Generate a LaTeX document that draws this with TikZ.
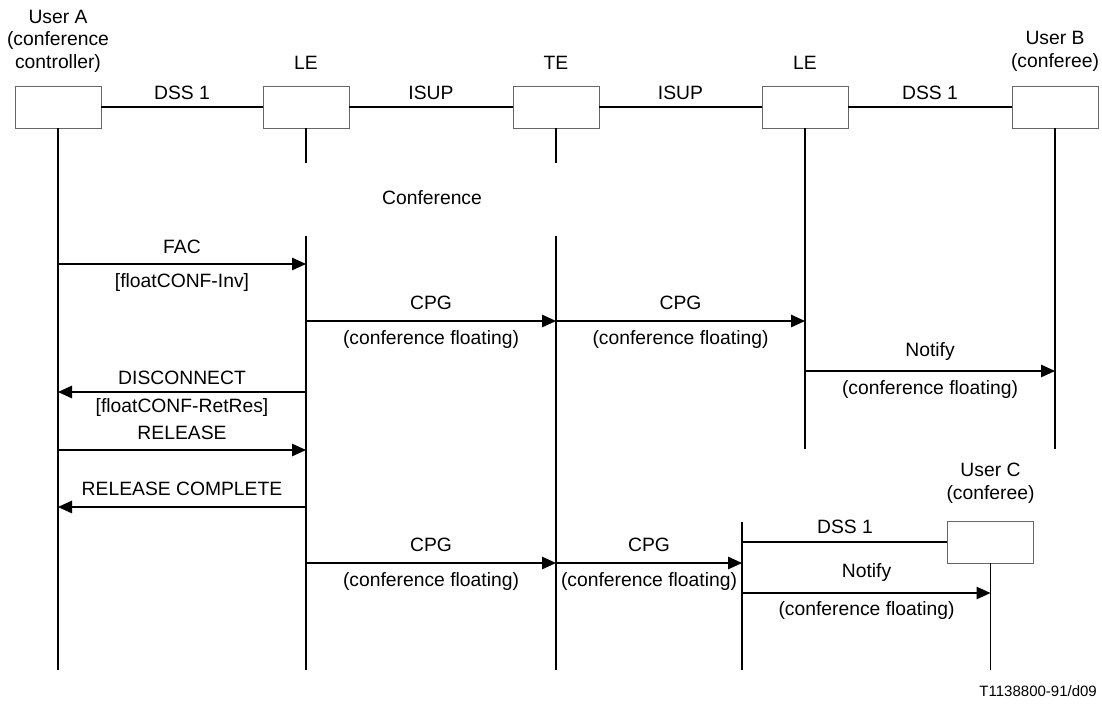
\documentclass[tikz,border=0pt]{standalone}
\usepackage{fontspec}
\setmainfont{Liberation Sans}
\usetikzlibrary{arrows.meta}
\begin{document}
\begin{tikzpicture}[x=1pt,y=-1pt,
  ent/.style={draw=black!60, line width=0.9pt, minimum width=86pt, minimum height=42pt, inner sep=0pt, fill=white},
  life/.style={line width=1.3pt},
  link/.style={line width=1.3pt},
  thin link/.style={line width=1.1pt},
  msg/.style={line width=1.3pt, -{Triangle[length=14pt,width=12.5pt]}},
  thin msg/.style={line width=1.1pt, -{Triangle[length=14pt,width=12.5pt]}},
  lbl/.style={font=\fontsize{19.3}{22.5}\selectfont, inner sep=0pt, align=center},
  tag/.style={font=\fontsize{15}{18}\selectfont, inner sep=0pt, anchor=east},
]
\useasboundingbox (0,0) rectangle (1102,709);

% entities
\node[ent] (A)   at (58,107)   {};
\node[ent] (LE1) at (306,107)  {};
\node[ent] (TE)  at (556,107)  {};
\node[ent] (LE2) at (805,107)  {};
\node[ent] (B)   at (1055,107) {};

\node[lbl] (nA)   at (58,41)    {User A\\(conference\\controller)};
\node[lbl] (nLE1) at (306,63)   {LE};
\node[lbl] (nTE)  at (556,63)   {TE};
\node[lbl] (nLE2) at (805,63)   {LE};
\node[lbl] (nB)   at (1055,51.5) {User B\\(conferee)};

% signalling links between entities
\draw[link] (A) -- (LE1);
\draw[link] (LE1) -- (TE);
\draw[link] (TE) -- (LE2);
\draw[link] (LE2) -- (B);
\node[lbl] (l1) at (182,93)   {DSS 1};
\node[lbl] (l2) at (431,93)   {ISUP};
\node[lbl] (l3) at (680.5,93) {ISUP};
\node[lbl] (l4) at (930,93)   {DSS 1};

% lifelines
\coordinate (Aend)  at (58,670);
\coordinate (LE1s)  at (306,163);
\coordinate (TEs)   at (556,163);
\coordinate (LE1t)  at (306,236);
\coordinate (LE1e)  at (306,670);
\coordinate (TEt)   at (556,236);
\coordinate (TEe)   at (556,670);
\coordinate (LE2e)  at (805,449);
\coordinate (Be)    at (1055,449);
\coordinate (LE3t)  at (742,522);
\coordinate (LE3e)  at (742,670);
\draw[life] (A.south) -- (Aend);
\draw[life] (LE1.south) -- (LE1s);
\draw[life] (TE.south) -- (TEs);
\draw[life] (LE1t) -- (LE1e);
\draw[life] (TEt) -- (TEe);
\draw[life] (LE2.south) -- (LE2e);
\draw[life] (B.south) -- (Be);
\draw[life] (LE3t) -- (LE3e);

\node[lbl] (conf) at (432,198) {Conference};

% floating request
\draw[msg] (A |- 0,264) -- (LE1t |- 0,264);
\node[lbl] (m1a) at (182,247) {FAC};
\node[lbl] (m1b) at (182,283) {[floatCONF-Inv]};

\draw[msg] (LE1t |- 0,321) -- (TEt |- 0,321);
\node[lbl] (m2a) at (431,303) {CPG};
\node[lbl] (m2b) at (431,340) {(conference floating)};

\draw[msg] (TEt |- 0,321) -- (LE2 |- 0,321);
\node[lbl] (m3a) at (680.5,303) {CPG};
\node[lbl] (m3b) at (680.5,340) {(conference floating)};

\draw[msg] (LE2 |- 0,371) -- (B |- 0,371);
\node[lbl] (m4a) at (930,352) {Notify};
\node[lbl] (m4b) at (930,390) {(conference floating)};

% clearing of the controller's call
\draw[msg] (LE1t |- 0,392) -- (A |- 0,392);
\node[lbl] (m5a) at (182,378) {DISCONNECT};
\node[lbl] (m5b) at (182,408) {[floatCONF-RetRes]};

\draw[msg] (A |- 0,450) -- (LE1t |- 0,450);
\node[lbl] (m6a) at (182,433) {RELEASE};

\draw[msg] (LE1t |- 0,507) -- (A |- 0,507);
\node[lbl] (m7a) at (182,489) {RELEASE COMPLETE};

% notification towards user C
\draw[msg] (LE1t |- 0,563) -- (TEt |- 0,563);
\node[lbl] (m8a) at (431,545) {CPG};
\node[lbl] (m8b) at (431,582) {(conference floating)};

\draw[msg] (TEt |- 0,563) -- (LE3t |- 0,563);
\node[lbl] (m9a) at (649,545) {CPG};
\node[lbl] (m9b) at (649,582) {(conference floating)};

% user C
\node[ent] (C) at (990.5,542) {};
\node[lbl] (nC) at (990.5,483.5) {User C\\(conferee)};
\coordinate (Ce) at (990.5,670);
\draw[life] (C.south) -- (Ce);
\draw[thin link] (LE3t |- C) -- (C);
\node[lbl] (l5) at (845,527) {DSS 1};

\draw[thin msg] (LE3t |- 0,593) -- (C |- 0,593);
\node[lbl] (m10a) at (866.5,573) {Notify};
\node[lbl] (m10b) at (866.5,611) {(conference floating)};

\node[tag] (ref) at (1097,691) {T1138800-91/d09};
\end{tikzpicture}
\end{document}
